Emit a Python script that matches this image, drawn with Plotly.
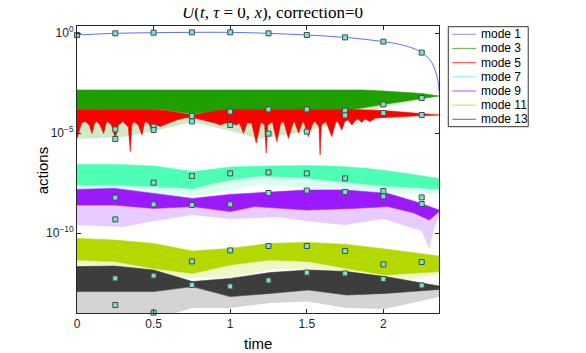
import numpy as np
import plotly.graph_objects as go

# ---------------- data ----------------
x_ticks = [0, 0.5, 1, 1.5, 2]
x_tick_labels = ["0", "0.5", "1", "1.5", "2"]
y_tick_exps = [-10, -5, 0]
y_tick_labels = ["10<sup>\u221210</sup>", "10<sup>\u22125</sup>", "10<sup>0</sup>"]

mode_names = ["mode 1", "mode 3", "mode 5", "mode 7", "mode 9", "mode 11", "mode 13"]
mode_colors = ["#5f6fff", "#1fa000", "#ff0000", "#4dffb4", "#9b19ff", "#b3d900", "#3d3d3d"]

# mode 1: smooth line (log10 of action)
mode1_t = [0, 0.25, 0.5, 0.75, 1.0, 1.25, 1.5, 1.75, 2.0, 2.1, 2.2, 2.25, 2.3, 2.33, 2.35, 2.36, 2.363]
mode1_log = [-0.1, -0.017, 0.017, 0.033, 0.033, -0.017, -0.1, -0.22, -0.43, -0.56, -0.78, -0.98, -1.3, -1.7, -2.2, -2.6, -2.9]

# bands: upper envelope, solid lower envelope, sparse-spike (fringe) lower envelope
mode3_up_t = [0, 1.87, 2.0, 2.25, 2.363]
mode3_up_log = [-2.85, -2.85, -2.9, -3.02, -3.15]
mode3_lo_t = [0, 0.5, 0.6, 0.754, 0.9, 1.0, 1.8, 1.9, 2.0, 2.25, 2.363]
mode3_lo_log = [-3.8, -3.8, -3.88, -4.05, -3.9, -3.82, -3.82, -3.7, -3.57, -3.27, -3.15]
mode3_fr_t = [0, 0.3, 0.5, 0.754, 1.0, 1.2, 1.5, 1.8, 1.9, 2.0, 2.25, 2.363]
mode3_fr_log = [-5.3, -5.2, -4.9, -4.45, -4.9, -5.3, -4.9, -4.3, -4.0, -3.7, -3.3, -3.15]

mode5_up_t = [0, 0.5, 0.6, 0.754, 0.9, 1.0, 1.1, 1.77, 2.0, 2.25, 2.363]
mode5_up_log = [-3.82, -3.82, -3.9, -4.1, -3.9, -3.83, -3.82, -3.82, -3.88, -4.02, -4.1]
mode5_lo_t = [0.0, 0.03, 0.055, 0.08, 0.098, 0.115, 0.13, 0.15, 0.174, 0.19, 0.2, 0.225, 0.25,
              0.27, 0.3, 0.335, 0.348, 0.358, 0.37, 0.4, 0.424, 0.44, 0.45, 0.47, 0.489, 0.52,
              0.543, 0.6, 0.65, 0.7, 0.754, 0.8, 0.85, 0.9, 0.935, 0.97, 1.0, 1.04, 1.06, 1.087,
              1.11, 1.14, 1.17, 1.2, 1.225, 1.235, 1.245, 1.275, 1.305, 1.33, 1.35, 1.38, 1.41,
              1.42, 1.446, 1.47, 1.48, 1.51, 1.54, 1.555, 1.58, 1.587, 1.595, 1.625, 1.663, 1.69,
              1.7, 1.729, 1.75, 1.77, 1.794, 1.82, 1.835, 1.859, 1.88, 1.913, 1.95, 2.05, 2.2, 2.363]
mode5_lo_log = [-5.27, -4.5, -4.43, -4.6, -5.02, -4.5, -4.43, -4.6, -5.02, -4.5, -4.43, -4.6, -5.27,
                -4.6, -4.43, -4.7, -5.93, -4.6, -4.43, -4.6, -5.1, -4.5, -4.43, -4.55, -4.85, -4.6,
                -4.68, -4.5, -4.35, -4.25, -4.22, -4.3, -4.4, -4.5, -4.6, -4.5, -4.5, -4.6, -4.5, -5.02,
                -4.5, -4.5, -5.5, -4.45, -4.6, -6.0, -4.6, -4.43, -5.43, -4.5, -4.43, -5.27, -4.5,
                -4.43, -5.0, -4.5, -4.43, -5.18, -4.5, -4.43, -4.7, -6.1, -4.6, -4.43, -5.18, -4.45,
                -4.4, -4.85, -4.4, -4.35, -4.6, -4.35, -4.3, -4.48, -4.3, -4.43, -4.25, -4.2, -4.15, -4.1]

mode7_up_t = [0, 0.25, 0.5, 0.754, 0.9, 1.0, 1.26, 1.5, 1.7, 1.9, 2.13, 2.363]
mode7_up_log = [-6.57, -6.57, -6.65, -6.93, -6.8, -6.7, -6.65, -6.63, -6.66, -6.78, -7.0, -7.27]
mode7_lo_t = [0, 0.25, 0.5, 0.754, 0.9, 1.04, 1.2, 1.49, 1.8, 2.02, 2.363]
mode7_lo_log = [-7.6, -7.6, -7.68, -7.78, -7.5, -7.3, -7.15, -7.25, -7.5, -7.65, -7.8]
mode7_fr_t = [0, 0.5, 0.754, 1.0, 1.2, 1.5, 1.8, 2.1, 2.363]
mode7_fr_log = [-8.05, -8.05, -8.15, -7.85, -7.55, -7.75, -8.0, -8.0, -8.05]

mode9_up_t = [0, 0.245, 0.5, 0.754, 1.0, 1.16, 1.5, 1.75, 2.03, 2.207, 2.363]
mode9_up_log = [-7.82, -7.77, -8.02, -8.27, -8.07, -8.0, -7.85, -7.85, -8.02, -8.43, -8.85]
mode9_lo_t = [0, 0.245, 0.5, 0.754, 1.0, 1.16, 1.5, 1.8, 2.03, 2.2, 2.3, 2.363]
mode9_lo_log = [-8.6, -8.6, -8.77, -8.68, -8.93, -8.68, -8.85, -8.77, -8.68, -9.0, -9.35, -8.93]
mode9_fr_t = [0, 0.3, 0.5, 0.754, 1.0, 1.3, 1.55, 1.75, 2.0, 2.25, 2.3, 2.33, 2.363]
mode9_fr_log = [-9.6, -9.7, -9.4, -9.1, -9.3, -9.2, -9.45, -9.6, -9.3, -9.9, -10.8, -9.8, -9.2]

mode11_up_t = [0, 0.245, 0.5, 0.754, 1.0, 1.26, 1.51, 1.76, 2.01, 2.363]
mode11_up_log = [-10.27, -10.35, -10.52, -10.9, -10.77, -10.52, -10.47, -10.57, -10.8, -11.15]
mode11_lo_t = [0, 0.245, 0.5, 0.754, 1.0, 1.26, 1.51, 1.76, 2.01, 2.363]
mode11_lo_log = [-11.35, -11.43, -11.77, -12.02, -11.6, -11.35, -11.43, -11.77, -12.1, -11.93]
mode11_fr_t = [0, 0.3, 0.6, 0.754, 1.0, 1.3, 1.5, 1.76, 2.01, 2.2, 2.363]
mode11_fr_log = [-11.7, -11.95, -12.2, -12.25, -12.2, -11.8, -11.8, -12.1, -12.45, -12.3, -12.05]

mode13_up_t = [0, 0.245, 0.5, 0.754, 1.0, 1.26, 1.51, 1.76, 2.01, 2.363]
mode13_up_log = [-11.68, -11.65, -11.85, -12.43, -12.27, -11.98, -11.85, -11.93, -12.18, -12.65]
mode13_lo_t = [0, 0.245, 0.5, 0.754, 1.0, 1.26, 1.51, 1.76, 2.01, 2.363]
mode13_lo_log = [-12.93, -12.93, -12.93, -12.68, -13.18, -13.02, -12.85, -13.1, -13.02, -12.82]
mode13_fr_t = [0, 0.6, 0.754, 1.0, 1.26, 1.5, 1.76, 2.01, 2.363]
mode13_fr_log = [-14.1, -14.1, -13.75, -13.75, -13.5, -13.43, -13.75, -13.8, -13.2]

# square markers (sampled solution), every 0.25 in time
mark1_t = [0, 0.25, 0.5, 0.75, 1.0, 1.25, 1.5, 1.75, 2.0, 2.25]
mark1_log = [-0.1, -0.017, 0.017, 0.033, 0.033, -0.017, -0.1, -0.22, -0.43, -0.98]
mark_t = [0.25, 0.5, 0.75, 1.0, 1.25, 1.5, 1.75, 2.0, 2.25]
mark3_log = [-4.82, -4.68, -4.15, -3.93, -3.82, -3.82, -3.88, -3.57, -3.25]
mark5_log = [-5.3, -4.85, -4.42, -4.6, -5.03, -4.93, -4.12, -4.0, -4.1]
mark7_log = [-8.23, -7.48, -7.15, -7.02, -6.97, -7.02, -7.27, -7.9, -8.22]
mark9_log = [-9.32, -8.57, -8.6, -8.57, -8.0, -7.88, -7.95, -8.17, -8.55]
mark11_log = [-12.27, -12.13, -11.42, -10.87, -10.65, -10.65, -10.9, -11.57, -11.45]
mark13_log = [-13.6, -13.98, -12.6, -12.67, -12.37, -11.98, -12.02, -12.3, -12.62]

# ---------------- figure ----------------
def p10(a):
    return np.power(10.0, np.asarray(a, dtype=float))

def rgba(hexc, a):
    h = hexc.lstrip("#")
    return "rgba(%d,%d,%d,%.2f)" % (int(h[0:2], 16), int(h[2:4], 16), int(h[4:6], 16), a)

fig = go.Figure()

fig.add_trace(go.Scatter(x=mode1_t, y=p10(mode1_log), mode="lines",
                         line=dict(color=mode_colors[0], width=1, shape="spline"),
                         showlegend=False, hoverinfo="skip"))

bands = [
    (mode_colors[1], mode3_up_t, mode3_up_log, mode3_lo_t, mode3_lo_log, mode3_fr_t, mode3_fr_log),
    (mode_colors[2], mode5_up_t, mode5_up_log, mode5_lo_t, mode5_lo_log, None, None),
    (mode_colors[3], mode7_up_t, mode7_up_log, mode7_lo_t, mode7_lo_log, mode7_fr_t, mode7_fr_log),
    (mode_colors[4], mode9_up_t, mode9_up_log, mode9_lo_t, mode9_lo_log, mode9_fr_t, mode9_fr_log),
    (mode_colors[5], mode11_up_t, mode11_up_log, mode11_lo_t, mode11_lo_log, mode11_fr_t, mode11_fr_log),
    (mode_colors[6], mode13_up_t, mode13_up_log, mode13_lo_t, mode13_lo_log, mode13_fr_t, mode13_fr_log),
]

for col, ut, ul, lt, ll, ft, fl in bands:
    if ft is not None:
        xs = list(lt) + list(ft)[::-1]
        ys = list(ll) + list(fl)[::-1]
        fig.add_trace(go.Scatter(x=xs, y=p10(ys), mode="lines", fill="toself",
                                 fillcolor=rgba(col, 0.22), line=dict(width=0),
                                 showlegend=False, hoverinfo="skip"))
    xs = list(ut) + list(lt)[::-1]
    ys = list(ul) + list(ll)[::-1]
    fig.add_trace(go.Scatter(x=xs, y=p10(ys), mode="lines", fill="toself",
                             fillcolor=col, line=dict(width=0.6, color=col),
                             showlegend=False, hoverinfo="skip"))

mk = dict(symbol="square", size=5, color="#6ee8c8", line=dict(color="#4a4a4a", width=1))
fig.add_trace(go.Scatter(x=mark1_t, y=p10(mark1_log), mode="markers", marker=mk,
                         showlegend=False, hoverinfo="skip", cliponaxis=False))
for ml in [mark3_log, mark5_log, mark7_log, mark9_log, mark11_log, mark13_log]:
    fig.add_trace(go.Scatter(x=mark_t, y=p10(ml), mode="markers", marker=mk,
                             showlegend=False, hoverinfo="skip", cliponaxis=False))

# ---------------- layout ----------------
# target pixel box of the axes in the page; the page body adds an 8px offset
OFF = 8
L, R, T, B = 76.7, 439.0, 26.0, 313.0
W, H = 586, 353
def px(xp):
    return (xp - L) / (R - L)
def py(yp):
    return (B - yp) / (B - T)

axcol = "#262626"
tickfont = dict(family="Liberation Sans, Arial, sans-serif", size=12, color=axcol)

fig.update_layout(
    width=W, height=H,
    margin=dict(l=L - OFF, r=W - (R - OFF), t=T - OFF, b=H - (B - OFF), pad=0),
    paper_bgcolor="white", plot_bgcolor="white",
    showlegend=False,
    xaxis=dict(range=[0, 2.363], tickvals=x_ticks, ticktext=x_tick_labels,
               ticks="inside", ticklen=4, tickcolor=axcol, showline=True, linecolor=axcol,
               linewidth=1, mirror="allticks", showgrid=False, zeroline=False,
               tickfont=tickfont),
    yaxis=dict(type="log", range=[-14, 0.35], tickvals=list(p10(y_tick_exps)),
               ticktext=y_tick_labels, ticks="inside", ticklen=4, tickcolor=axcol,
               showline=True, linecolor=axcol, linewidth=1, mirror="allticks",
               showgrid=False, zeroline=False, tickfont=tickfont),
)

ann = [
    dict(text="<i>U</i>(<i>t</i>, <i>\u03c4</i> = 0, <i>x</i>), correction=0",
         x=px(272), y=py(13), xref="paper", yref="paper", showarrow=False,
         xanchor="center", yanchor="middle",
         font=dict(family="Liberation Serif, Times New Roman, serif", size=17, color="black")),
    dict(text="time", x=px(257.5), y=py(343), xref="paper", yref="paper", showarrow=False,
         xanchor="center", yanchor="middle",
         font=dict(family="Liberation Sans, Arial, sans-serif", size=15, color="black")),
    dict(text="actions", x=px(42), y=py(170), xref="paper", yref="paper", showarrow=False,
         xanchor="center", yanchor="middle", textangle=-90,
         font=dict(family="Liberation Sans, Arial, sans-serif", size=15, color="black")),
]

shapes = [dict(type="rect", xref="paper", yref="paper", x0=px(448.3), x1=px(528.3),
               y0=py(126.7), y1=py(26.7), line=dict(color="#333333", width=1),
               fillcolor="white", layer="above")]
for i, (name, col) in enumerate(zip(mode_names, mode_colors)):
    yy = 34.3 + 14.17 * i
    shapes.append(dict(type="line", xref="paper", yref="paper", x0=px(452.3), x1=px(476),
                       y0=py(yy), y1=py(yy), line=dict(color=rgba(col, 0.65), width=1.2),
                       layer="above"))
    ann.append(dict(text=name, x=px(479), y=py(yy), xref="paper", yref="paper",
                    showarrow=False, xanchor="left", yanchor="middle",
                    font=dict(family="Liberation Sans, Arial, sans-serif", size=12, color="black")))

fig.update_layout(annotations=ann, shapes=shapes)

fig.write_html("out.html")
